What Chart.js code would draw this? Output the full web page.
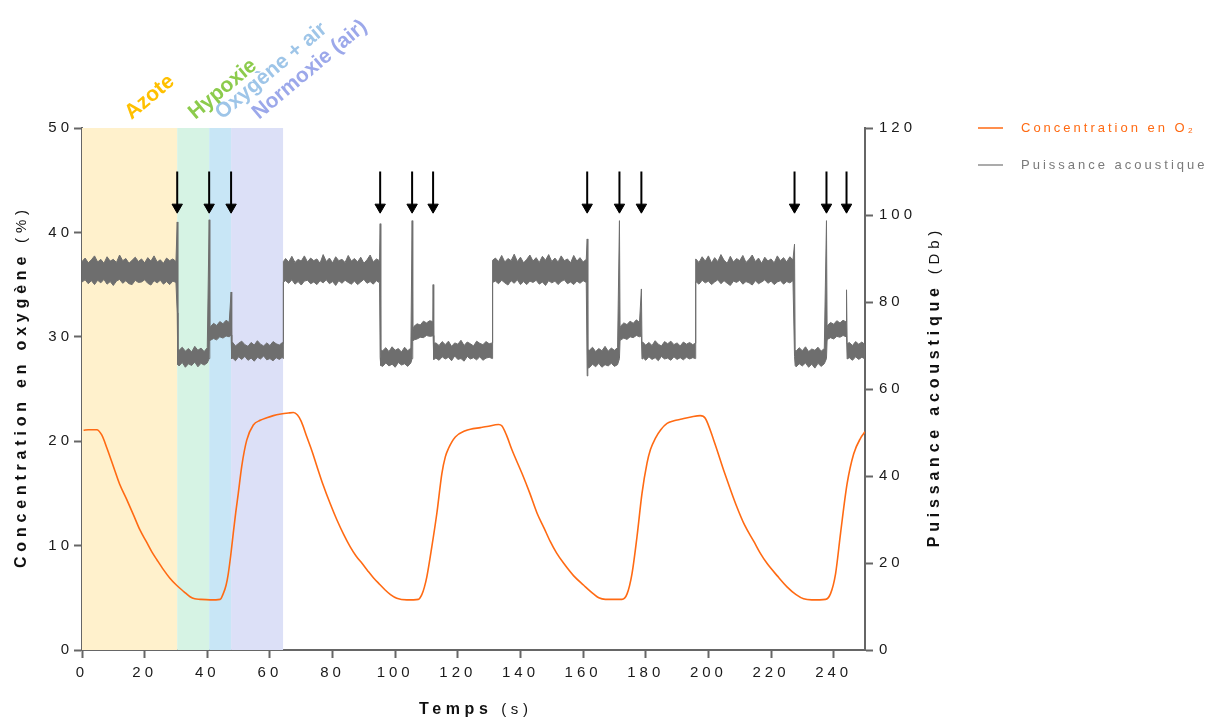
<!DOCTYPE html>
<html>
<head>
<meta charset="utf-8">
<script src="https://cdn.jsdelivr.net/npm/chart.js@4.4.1/dist/chart.umd.min.js"></script>
<style>
  html, body { margin: 0; padding: 0; background: #fff; }
  #wrap { width: 1209px; height: 719px; }
</style>
</head>
<body>
<div id="wrap"><canvas id="chart" width="1209" height="719"></canvas></div>
<script>
// ---------------------------------------------------------------
// Data (time in s)
// ---------------------------------------------------------------

// Tick labels of the time axis
const timeTicks = [0, 20, 40, 60, 80, 100, 120, 140, 160, 180, 200, 220, 240];

// Phases of the first cycle (shaded bands)
const phaseNames = ['Azote', 'Hypoxie', 'Oxygène + air', 'Normoxie (air)'];
const phaseStart = [0, 30.4, 40.6, 47.6];
const phaseEnd   = [30.4, 40.6, 47.6, 64.2];

// Gas switch markers (arrows)
const arrowTimes = [30.4, 40.6, 47.6, 95.2, 105.4, 112.1, 161.3, 171.6, 178.6, 227.5, 237.7, 244.1];

// O2 concentration (%): [time, value]
const o2Series = [
  [0.5,21.05],[2,21.1],[4.7,21.1],[6.3,20.6],[8,19.3],[10,17.6],[12,15.9],[14.3,14.4],[16.5,12.9],
  [18.5,11.5],[20.5,10.4],[22.3,9.4],[24,8.6],[26,7.7],[28,6.9],[30.2,6.2],[32.5,5.6],[34.5,5.1],
  [36,4.9],[37.7,4.85],[40.9,4.8],[44.1,4.85],[45.1,5.4],[46,6.2],[46.7,7.3],[47.5,9.1],[48.3,11.2],
  [49.1,13.2],[49.9,15.0],[51,17.6],[52.6,20.1],[54.7,21.55],[56.9,22.0],[59,22.25],[61.1,22.45],
  [63.5,22.6],[65.9,22.7],[67.5,22.75],[68.8,22.5],[70,21.9],[71.8,20.4],[73.5,19.0],[75,17.6],
  [77,15.8],[79.2,14.05],[81.4,12.45],[83.5,11.1],[85.6,9.9],[87.5,9.0],[89.4,8.3],[91.2,7.6],
  [93.1,6.9],[95,6.3],[96.8,5.75],[98.5,5.3],[100.5,4.95],[103.7,4.8],[107.4,4.85],[108.5,5.3],
  [109.3,6.0],[110.1,7.0],[111.7,9.9],[113.3,13.1],[114.9,16.9],[116,18.5],[117,19.3],[119.2,20.4],
  [122.4,21.0],[124,21.15],[127.2,21.3],[129.3,21.4],[133,21.6],[134.1,21.45],[135.5,20.6],
  [137.3,19.15],[140.5,16.9],[143,15.0],[145.3,13.1],[147.5,11.7],[149.5,10.4],[151.5,9.3],
  [153.8,8.3],[157,7.1],[160.2,6.2],[163.4,5.35],[165,5.0],[167.1,4.85],[172.4,4.85],[174,5.35],
  [175.6,7.3],[177.2,10.85],[178.8,15.0],[180.4,17.9],[181.5,19.2],[183.1,20.3],[184.8,21.1],
  [186.8,21.7],[189,21.95],[191.1,22.1],[194.8,22.35],[197.4,22.45],[199,22.2],[201.7,20.1],
  [204.9,17.2],[207,15.4],[209.1,13.7],[211.5,12.0],[214.5,10.4],[216.5,9.3],[218.7,8.3],[222,7.1],
  [225.1,6.05],[228,5.3],[230.4,4.9],[233,4.8],[237.4,4.85],[239,5.4],[240.6,7.3],[242.2,11.2],
  [244.3,15.95],[246.4,18.8],[248.6,20.3],[250,20.9]
];

// Acoustic power (Db): [time, upper edge of trace, lower edge of trace]
const acousticSeries = [
  [0,89.3,84.6],[1,90.1,85.1],[2,89.0,84.2],[3,89.7,84.9],[4,90.6,84.0],[5,89.2,85.0],[6,89.8,84.4],
  [7,88.9,85.2],[8,90.4,84.1],[9,89.4,84.7],[10,89.8,83.8],[11,89.1,84.8],[12,90.8,85.2],[13,89.5,84.3],
  [14,90.0,84.9],[15,88.9,84.2],[16,89.6,84.0],[17,90.3,85.0],[18,89.3,84.5],[19,89.9,84.6],[20,89.0,85.1],
  [21,90.2,84.3],[22,89.4,83.9],[23,90.6,84.9],[24,89.2,84.4],[25,89.7,85.0],[26,88.9,84.1],[27,90.1,84.7],
  [28,89.5,84.0],[29,89.9,84.8],[30,89.3,84.5],
  [30.4,98.4,77.5],[30.6,69.2,65.6],
  [31,68.9,65.3],[32,69.6,66.1],[33,68.7,65.0],[34,69.3,65.8],[35,68.5,65.4],[36,69.8,66.2],[37,68.9,65.1],
  [38,69.4,65.9],[39,68.6,65.5],[40,69.5,66.0],
  [40.6,98.9,67.0],[40.8,73.8,71.0],
  [41,74.3,71.2],[42,75.1,71.6],[43,74.6,71.3],[44,75.5,72.0],[45,75.0,71.7],[46,75.8,72.2],[47,75.3,72.0],
  [47.6,82.3,72.4],[47.8,70.4,66.9],
  [48,70.8,67.2],[49,69.9,66.5],[50,70.5,67.4],[51,71.0,66.8],[52,70.2,67.5],[53,69.8,66.6],[54,70.7,67.1],
  [55,70.1,66.4],[56,71.1,67.3],[57,70.3,66.9],[58,69.9,67.6],[59,70.6,66.7],[60,70.0,67.0],[61,70.9,66.5],
  [62,70.4,67.2],[63,70.1,66.8],[64,70.7,67.3],
  [64.2,70.5,67.0],[64.3,89.3,84.6],
  [65,90.0,84.9],[66,89.2,84.3],[67,90.5,85.1],[68,89.1,84.1],[69,89.8,84.7],[70,89.4,83.9],[71,90.6,84.8],
  [72,89.2,85.0],[73,90.1,84.2],[74,89.5,84.6],[75,89.9,84.0],[76,88.9,84.9],[77,90.9,84.4],[78,89.3,85.1],
  [79,90.1,84.2],[80,89.0,84.7],[81,90.4,83.8],[82,89.5,84.9],[83,89.8,84.3],[84,89.1,85.0],[85,90.7,84.5],
  [86,89.4,84.1],[87,90.0,84.8],[88,89.2,84.0],[89,90.3,84.6],[90,88.9,85.2],[91,89.7,84.3],[92,90.8,84.7],
  [93,89.2,84.1],[94,89.9,84.9],[95,89.5,84.4],
  [95.2,98.0,67.2],[95.4,69.0,65.4],
  [96,68.8,65.2],[97,69.5,66.0],[98,68.6,65.3],[99,69.7,65.7],[100,68.9,65.0],[101,69.3,66.1],[102,68.5,65.5],
  [103,69.6,65.8],[104,68.8,65.2],[105,69.4,66.0],
  [105.4,98.7,67.0],[105.6,73.5,71.0],
  [106,74.4,71.3],[107,75.0,71.5],[108,74.7,71.9],[109,75.6,71.8],[110,75.2,72.3],[111,75.7,72.1],[112,75.5,72.2],
  [112.1,84.0,72.3],[112.3,70.5,66.8],
  [113,70.6,67.1],[114,70.0,66.6],[115,70.9,67.4],[116,70.2,66.9],[117,71.0,67.3],[118,69.8,66.5],[119,70.6,67.6],
  [120,70.3,66.8],[121,71.2,67.0],[122,70.0,66.4],[123,70.8,67.5],[124,70.4,66.9],[125,69.9,67.2],[126,71.0,66.7],
  [127,70.5,67.4],[128,70.2,66.6],[129,70.9,67.1],[130,70.4,67.3],
  [131,70.6,67.0],[131.1,89.6,84.5],
  [132,90.1,84.8],[133,89.3,84.2],[134,90.7,85.0],[135,89.2,84.4],[136,90.0,83.9],[137,89.5,84.9],[138,91.0,84.3],
  [139,89.3,85.1],[140,90.3,84.0],[141,89.0,84.7],[142,89.8,84.0],[143,90.8,84.8],[144,89.4,84.5],[145,90.2,85.0],
  [146,89.1,84.1],[147,90.5,84.6],[148,89.6,83.8],[149,90.9,84.9],[150,89.3,84.4],[151,90.1,84.8],[152,89.2,84.0],
  [153,90.6,84.7],[154,89.5,85.1],[155,89.9,84.2],[156,89.0,84.6],[157,90.7,84.0],[158,89.4,84.8],[159,90.2,84.3],
  [160,89.2,84.9],[161,89.8,84.5],
  [161.3,94.5,63.0],[161.5,69.0,64.8],
  [162,68.9,64.9],[163,69.6,65.7],[164,68.6,65.1],[165,69.3,65.9],[166,68.8,65.0],[167,69.8,65.6],[168,68.7,65.3],
  [169,69.4,65.9],[170,68.9,65.2],[171,69.5,65.6],
  [171.6,98.7,67.0],[171.8,74.0,71.2],
  [172,74.5,71.3],[173,75.2,71.7],[174,74.8,71.4],[175,75.6,72.0],[176,75.1,71.8],[177,75.9,72.3],[178,75.3,72.0],
  [178.6,83.0,72.2],[178.8,70.3,66.9],
  [179,70.8,67.3],[180,70.1,66.6],[181,70.7,67.4],[182,70.0,66.8],[183,71.1,67.2],[184,70.3,66.5],[185,69.9,67.5],
  [186,70.9,66.9],[187,70.4,67.1],[188,71.0,66.6],[189,70.2,67.4],[190,70.6,66.8],[191,69.9,67.2],[192,70.8,66.7],
  [193,70.3,67.3],[194,70.7,66.9],[195,70.2,67.2],
  [195.8,70.5,67.0],[195.9,89.5,84.6],
  [196,89.9,84.7],[197,89.1,84.1],[198,90.4,85.0],[199,89.4,84.4],[200,90.6,84.8],[201,89.0,84.0],[202,90.2,84.6],
  [203,89.3,85.1],[204,90.9,84.2],[205,89.6,84.9],[206,88.9,84.3],[207,90.5,83.8],[208,89.2,84.8],[209,90.0,84.5],
  [210,89.5,85.0],[211,90.7,84.1],[212,89.1,84.7],[213,89.8,84.4],[214,90.8,83.9],[215,89.3,84.9],[216,90.1,84.2],
  [217,88.9,84.6],[218,90.3,85.1],[219,89.4,84.3],[220,89.9,84.8],[221,89.0,84.0],[222,90.6,84.6],[223,89.5,84.9],
  [224,90.2,84.1],[225,89.2,84.7],[226,90.4,84.4],[227,89.7,84.9],
  [227.5,93.3,67.5],[227.7,69.0,65.4],
  [228,68.7,65.1],[229,69.5,65.8],[230,68.8,65.3],[231,69.7,66.0],[232,68.6,65.0],[233,69.2,65.7],[234,68.9,64.8],
  [235,69.6,65.9],[236,68.7,65.2],[237,69.3,65.8],
  [237.7,98.7,67.0],[237.9,74.2,71.2],
  [238,74.6,71.4],[239,75.3,71.8],[240,74.9,71.5],[241,75.7,72.1],[242,75.2,71.9],[243,75.8,72.3],[244,75.4,72.0],
  [244.1,82.8,72.2],[244.3,70.4,66.9],
  [245,70.7,67.2],[246,70.0,66.6],[247,70.9,67.4],[248,70.3,66.8],[249,70.8,67.3],[250,70.2,66.9]
];

// Arrow extent on the Db axis
const arrowTop = 110;
const arrowHead = 101.8;

// ---------------------------------------------------------------
// Styling
// ---------------------------------------------------------------
const FONT = "'Liberation Sans', Arial, sans-serif";
const AXIS = '#666666';
const ORANGE = '#FF6A13';
const GREY = '#6E6E6E';
const phaseFill  = ['#FFF1CC', '#D6F3E4', '#C8E6F6', '#DCE0F7'];
const phaseLabel = ['#FFC000', '#8CCB4C', '#9EC5E8', '#9CA8EA'];

Chart.defaults.font.family = FONT;
Chart.defaults.font.size = 15;
Chart.defaults.color = '#1a1a1a';

// Chart text is drawn with wide letter spacing
const textSpacing = {
  id: 'textSpacing',
  beforeUpdate(chart) { chart.ctx.letterSpacing = '4px'; },
  beforeDraw(chart) { chart.ctx.letterSpacing = '4px'; }
};

// Shaded phase bands behind the traces
const phaseBands = {
  id: 'phaseBands',
  beforeDatasetsDraw(chart) {
    const { ctx, chartArea, scales } = chart;
    ctx.save();
    phaseStart.forEach((s, i) => {
      const x0 = scales.x.getPixelForValue(s);
      const x1 = scales.x.getPixelForValue(phaseEnd[i]);
      ctx.fillStyle = phaseFill[i];
      ctx.fillRect(x0, chartArea.top, x1 - x0, chartArea.bottom - chartArea.top);
    });
    ctx.restore();
  }
};

// Text made of pieces with different fonts, centred on (cx, cy)
function drawPieces(ctx, pieces, cx, cy, angle, spacing, color) {
  ctx.save();
  ctx.translate(cx, cy);
  ctx.rotate(angle);
  ctx.letterSpacing = spacing + 'px';
  ctx.fillStyle = color;
  ctx.textBaseline = 'middle';
  ctx.textAlign = 'left';
  let total = 0;
  pieces.forEach(p => { ctx.font = p.font; p.w = ctx.measureText(p.text).width; total += p.w; });
  total -= spacing;
  let x = -total / 2;
  pieces.forEach(p => { ctx.font = p.font; ctx.fillText(p.text, x, 0); x += p.w; });
  ctx.restore();
}

// Axis titles, legend and phase labels
const overlayText = {
  id: 'overlayText',
  afterDraw(chart) {
    const { ctx, chartArea, scales } = chart;
    const bold = 'bold 16px ' + FONT;
    const normal = '15px ' + FONT;
    const midY = (chartArea.top + chartArea.bottom) / 2;

    drawPieces(ctx, [{ text: 'Concentration en oxygène', font: bold }, { text: ' (%)', font: normal }],
      22, midY, -Math.PI / 2, 4.8, '#111');
    drawPieces(ctx, [{ text: 'Puissance acoustique', font: bold }, { text: ' (Db)', font: normal }],
      935, midY, -Math.PI / 2, 4.8, '#111');
    drawPieces(ctx, [{ text: 'Temps', font: bold }, { text: ' (s)', font: normal }],
      (chartArea.left + chartArea.right) / 2, 710, 0, 4.6, '#111');

    // legend
    const legend = [
      { text: 'Concentration en O₂', line: ORANGE, color: ORANGE, y: 128 },
      { text: 'Puissance acoustique', line: '#8f8f8f', color: '#7a7a7a', y: 165 }
    ];
    ctx.save();
    ctx.letterSpacing = '3px';
    ctx.font = '13px ' + FONT;
    ctx.textBaseline = 'middle';
    legend.forEach(item => {
      ctx.strokeStyle = item.line;
      ctx.lineWidth = 1.5;
      ctx.beginPath();
      ctx.moveTo(978, item.y);
      ctx.lineTo(1003, item.y);
      ctx.stroke();
      ctx.fillStyle = item.color;
      ctx.fillText(item.text, 1021, item.y);
    });
    ctx.restore();

    // phase labels, slanted above the bands
    ctx.save();
    ctx.letterSpacing = '0px';
    ctx.font = 'bold 21px ' + FONT;
    ctx.textBaseline = 'alphabetic';
    ctx.textAlign = 'left';
    phaseNames.forEach((name, i) => {
      const cx = scales.x.getPixelForValue((phaseStart[i] + phaseEnd[i]) / 2) + 2;
      ctx.save();
      ctx.translate(cx, chartArea.top - 8);
      ctx.rotate(-40 * Math.PI / 180);
      ctx.fillStyle = phaseLabel[i];
      ctx.fillText(name, 0, 0);
      ctx.restore();
    });
    ctx.restore();
  }
};

// ---------------------------------------------------------------
// Datasets
// ---------------------------------------------------------------
const arrowShafts = [];
arrowTimes.forEach(t => {
  arrowShafts.push({ x: t, y: arrowTop }, { x: t, y: arrowHead }, { x: t, y: null });
});

const axisGrid = { drawOnChartArea: false, drawTicks: true, tickLength: 8, tickColor: AXIS, tickWidth: 2 };
const axisBorder = { display: true, color: AXIS, width: 2 };

new Chart(document.getElementById('chart'), {
  type: 'line',
  data: {
    datasets: [
      {
        label: 'Concentration en O₂',
        yAxisID: 'yO2',
        data: o2Series.map(r => ({ x: r[0], y: r[1] })),
        borderColor: ORANGE,
        borderWidth: 1.6,
        cubicInterpolationMode: 'monotone',
        pointRadius: 0
      },
      {
        label: 'Puissance acoustique',
        yAxisID: 'yDb',
        data: acousticSeries.map(r => ({ x: r[0], y: r[1] })),
        borderColor: GREY,
        backgroundColor: GREY,
        borderWidth: 1,
        fill: '+1',
        tension: 0,
        pointRadius: 0
      },
      {
        label: 'lower edge',
        yAxisID: 'yDb',
        data: acousticSeries.map(r => ({ x: r[0], y: r[2] })),
        borderColor: GREY,
        borderWidth: 1,
        fill: false,
        tension: 0,
        pointRadius: 0
      },
      {
        label: 'arrows',
        yAxisID: 'yDb',
        data: arrowShafts,
        borderColor: '#000',
        borderWidth: 2,
        spanGaps: false,
        pointRadius: 0
      },
      {
        label: 'arrow heads',
        yAxisID: 'yDb',
        data: arrowTimes.map(t => ({ x: t, y: arrowHead })),
        showLine: false,
        pointStyle: 'triangle',
        pointRotation: 180,
        pointRadius: 6,
        pointBackgroundColor: '#000',
        pointBorderColor: '#000',
        pointBorderWidth: 1
      }
    ]
  },
  options: {
    responsive: false,
    animation: false,
    events: [],
    layout: { padding: { top: 128, right: 249, bottom: 0, left: 0 } },
    plugins: { legend: { display: false }, tooltip: { enabled: false } },
    scales: {
      x: {
        type: 'linear',
        min: 0,
        max: 250,
        ticks: { padding: 6, autoSkip: false, maxRotation: 0 },
        afterBuildTicks: s => { s.ticks = timeTicks.map(v => ({ value: v })); },
        afterFit: s => { s.height = 69; },
        grid: axisGrid,
        border: axisBorder
      },
      yO2: {
        position: 'left',
        min: 0,
        max: 50,
        ticks: { stepSize: 10, padding: 1, autoSkip: false },
        afterFit: s => { s.width = 82; },
        grid: axisGrid,
        border: axisBorder
      },
      yDb: {
        position: 'right',
        min: 0,
        max: 120,
        ticks: { stepSize: 20, padding: 6, autoSkip: false },
        afterFit: s => { s.width = 95; },
        grid: axisGrid,
        border: axisBorder
      }
    }
  },
  plugins: [textSpacing, phaseBands, overlayText]
});
</script>
</body>
</html>
